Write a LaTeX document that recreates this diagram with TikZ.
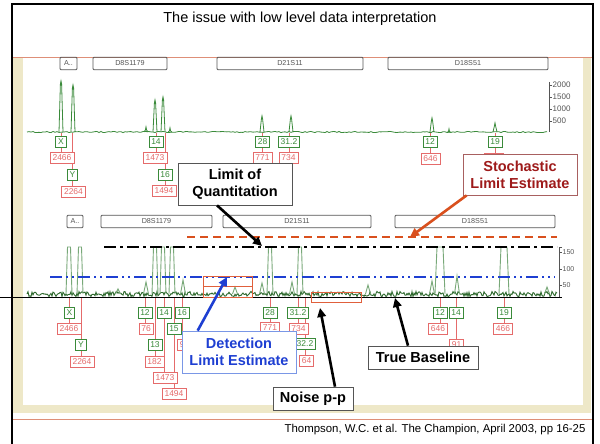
\documentclass[tikz,border=0pt]{standalone}
\usepackage{fontspec}
\setmainfont{Liberation Sans}
\usetikzlibrary{arrows.meta, positioning}

\definecolor{beige}{HTML}{EEE8C8}
\definecolor{salmon}{HTML}{DE8F78}
\definecolor{trgreen}{HTML}{3A8A3A}
\definecolor{darkgreen}{HTML}{2F6A2F}
\definecolor{lightgreen}{HTML}{78A878}
\definecolor{labred}{HTML}{E56B6B}
\definecolor{stochred}{HTML}{9E1A1A}
\definecolor{stochborder}{HTML}{A86060}
\definecolor{stocharrow}{HTML}{D9501E}
\definecolor{detblue}{HTML}{1E3FD2}
\definecolor{detborder}{HTML}{7A97E6}
\definecolor{genegray}{HTML}{555555}
\definecolor{rangered}{HTML}{E0603C}

\pgfdeclarelayer{bg}
\pgfsetlayers{bg,main}

\begin{document}
\begin{tikzpicture}[x=1pt, y=-1pt,
    glabel/.style={rectangle, draw=trgreen, text=trgreen, fill=white, font=\fontsize{8.5}{9}\selectfont, inner xsep=2.4pt, inner ysep=1pt, minimum width=10pt, minimum height=11pt, line width=0.7pt},
    rlabel/.style={glabel, draw=labred, text=labred},
    link/.style={labred, line width=0.7pt},
    genebox/.style={rectangle, draw=genegray, text=genegray, rounded corners=1pt, line width=0.8pt, font=\fontsize{7.2}{8}\selectfont, minimum height=12.5pt, inner sep=0pt},
    ticklabel/.style={anchor=west, inner sep=0.5pt, text=genegray, font=\fontsize{8}{8}\selectfont},
    traceline/.style={trgreen, line width=0.8pt},
    noiseline/.style={darkgreen, line width=0.9pt},
    peakline/.style={lightgreen, line width=0.9pt},
    stochline/.style={stocharrow, line width=1.5pt, dash pattern=on 8pt off 5pt},
    quantline/.style={black, line width=1.5pt, dash pattern=on 12pt off 4pt on 3pt off 4pt},
    detline/.style={detblue, line width=1.5pt, dash pattern=on 12pt off 4pt on 2pt off 4pt on 2pt off 4pt},
    zeroline/.style={black, line width=0.6pt},
    rangebox/.style={rangered, line width=0.8pt},
    calloutbox/.style={rectangle, draw=genegray, fill=white, align=center, font=\fontsize{14.5}{17}\selectfont\bfseries, line width=0.7pt},
    ptr/.style={-{Triangle[length=9pt, width=8.5pt]}, line width=2.6pt}
]
\useasboundingbox (0,0) rectangle (600,444);
\pgfmathsetseed{42}

\begin{pgfonlayer}{bg}
\fill[white] (0,0) rectangle (600,444);
\fill[beige] (13,57) rectangle (591,413);
\fill[white] (23,57) rectangle (583,405);
\end{pgfonlayer}

% frame
\draw[salmon, line width=0.8pt] (12,57) -- (593,57);
\draw[salmon, line width=0.8pt] (12,419) -- (593,419);
\draw[line width=2.4pt] (12,444) -- (12,4) -- (593,4) -- (593,444);

\node[font=\fontsize{14.5}{17}\selectfont] (title) at (300,19) {The issue with low level data interpretation};

% top panel
\node[genebox, minimum width=17pt] (topA) at (68.5,63.5) {A..};
\node[genebox, minimum width=74pt] (topD8) at (130,63.5) {D8S1179};
\node[genebox, minimum width=146pt] (topD21) at (290,63.5) {D21S11};
\node[genebox, minimum width=160pt] (topD18) at (468,63.5) {D18S51};

\draw[genegray, line width=0.7pt] (549,82) -- (549,132);
\foreach \py/\lab in {85/2000,97/1500,109/1000,121/500} {
  \draw[genegray, line width=0.7pt] (549,\py) -- (552,\py);
  \node[ticklabel] (ta\lab) at (552,\py) {\lab};
}

\coordinate (topbase) at (0,133);
\draw[traceline] (27,132) \foreach \i in {29,31,...,547} {-- (\i,{132+0.6*rand})};
\foreach \px/\py in {61/81,73/85,146/127,155/100,163/97,170/128,262/116,291/116,432/118,449/129,495/123}
  \draw[traceline] (\px-2,132) -- (\px-0.6,\py+3) -- (\px,\py) -- (\px+0.6,\py+3) -- (\px+2,132);

\foreach \nm/\px/\py/\lab in {tX/61/141.5/X, tY/72.5/175/Y, t14/156/141.5/14, t16/165/174.5/16, t28/262.5/142/28, t312/289/142/31.2, t12/430/141.5/12, t19/495/141.5/19}
  \node[glabel] (\nm) at (\px,\py) {\lab};
\foreach \nm/\px/\py/\lab in {tXr/62/158/2466, tYr/73.5/192/2264, t14r/155/158/1473, t16r/164/191/1494, t28r/262.5/158/771, t312r/288.5/158/734, t12r/430.5/159/646, t19r/494/159/\phantom{466}}
  \node[rlabel] (\nm) at (\px,\py) {\lab};

\begin{pgfonlayer}{bg}
\foreach \g/\r in {tX/tXr, tY/tYr, t14/t14r, t16/t16r, t28/t28r, t312/t312r, t12/t12r, t19/t19r} {
  \draw[link] (\g.north |- topbase) -- (\g.north);
  \draw[link] (\g.south) -- (\g.south |- \r.north);
}
\end{pgfonlayer}

% bottom panel
\node[genebox, minimum width=16pt] (botA) at (75,221.5) {A..};
\node[genebox, minimum width=111pt] (botD8) at (156.5,221.5) {D8S1179};
\node[genebox, minimum width=148pt] (botD21) at (297,221.5) {D21S11};
\node[genebox, minimum width=160pt] (botD18) at (475,221.5) {D18S51};

\draw[genegray, line width=0.7pt] (562,247) -- (559,247) -- (559,297) -- (562,297);
\foreach \py/\lab in {252/150,269/100,285/50} {
  \draw[genegray, line width=0.7pt] (559,\py) -- (562,\py);
  \node[ticklabel, font=\fontsize{7}{7}\selectfont] (ba\lab) at (562,\py) {\lab};
}

\coordinate (botbase) at (0,297);
\draw[noiseline] (27,294) \foreach \i in {28,...,557} {-- (\i,{294+2.6*rand})};
\foreach \px in {69,80,155,163,172,270,300}
  \draw[peakline] (\px-3,294) -- (\px-1.5,247) -- (\px+1.5,247) -- (\px+3,294);
\foreach \px in {440,504}
  \draw[peakline] (\px-5,294) -- (\px-3,247) -- (\px+3,247) -- (\px+5,294);
\foreach \px/\py in {118/289,146/282,183/280,235/287,262/283,292/282,368/285,432/281,457/276,547/287}
  \draw[peakline] (\px-2.5,294) -- (\px,\py) -- (\px+2.5,294);

\foreach \nm/\px/\py/\lab in {bX/69.5/313/X, bY/81/345/Y, b12/145/313/12, b13/155/345/13, b14/164/313/14, b15/174/329/15, b16/182/313/16, b28/270/313/28, b312/298/313/31.2, b322/305/344/32.2, b12b/440/313/12, b14b/456/313/14, b19/504/313/19}
  \node[glabel] (\nm) at (\px,\py) {\lab};
\foreach \nm/\px/\py/\lab in {bXr/69/328.5/2466, bYr/82/362/2264, b12r/146/329/76, b13r/154.5/361.5/182, b14r/165/377.5/1473, b15r/174/394/1494, b28r/270/328/771, b312r/298.5/328.5/734, b322r/306.5/361/64, b12br/438/328.5/646, b14br/456.5/345/91, b19r/503/328.5/466}
  \node[rlabel] (\nm) at (\px,\py) {\lab};
\node[rlabel, anchor=west] (b16r) at (177,345) {9\phantom{1}};

\begin{pgfonlayer}{bg}
\foreach \g/\r in {bX/bXr, bY/bYr, b12/b12r, b13/b13r, b14/b14r, b15/b15r, b16/b16r, b28/b28r, b312/b312r, b322/b322r, b12b/b12br, b14b/b14br, b19/b19r} {
  \draw[link] (\g.north |- botbase) -- (\g.north);
  \draw[link] (\g.south) -- (\g.south |- \r.north);
}
\end{pgfonlayer}

% thresholds
\draw[zeroline] (0,297) -- (562,297);
\draw[stochline] (187,237) -- (557,237);
\draw[quantline] (104,247) -- (557,247);
\draw[detline] (50,277) -- (555,277);
\draw[rangebox] (203,276) rectangle (252,297);
\draw[rangebox] (203,286) -- (252,286);
\draw[rangebox] (311,292) rectangle (361,302);

% callouts
\node[calloutbox, minimum width=114pt, minimum height=42pt] (loq) at (235,184) {Limit of\\Quantitation};
\node[calloutbox, draw=stochborder, text=stochred, minimum width=114pt, minimum height=41pt] (stoch) at (520,174.5) {Stochastic\\Limit Estimate};
\node[calloutbox, draw=detborder, text=detblue, minimum width=114pt, minimum height=42pt] (detect) at (239,352) {Detection\\Limit Estimate};
\node[calloutbox, minimum width=110pt, minimum height=23pt] (truebase) at (423,357.5) {True Baseline};
\node[calloutbox, minimum width=80pt, minimum height=23pt] (noisepp) at (313,398.5) {Noise p-p};

\coordinate (loqtip) at (262,246);
\coordinate (stochtip) at (410,237);
\coordinate (dettip) at (227,277);
\coordinate (basetip) at (395,298);
\coordinate (noisetip) at (320,308);

\draw[ptr] ([xshift=-18pt]loq.south) -- (loqtip);
\draw[ptr, stocharrow] ([xshift=4pt]stoch.south west) -- (stochtip);
\draw[ptr, detblue] ([xshift=16pt]detect.north west) -- (dettip);
\draw[ptr] ([xshift=-15pt]truebase.north) -- (basetip);
\draw[ptr] ([xshift=22pt]noisepp.north) -- (noisetip);

\node[anchor=east, font=\fontsize{11.4}{13}\selectfont] (cite) at (589,430) {Thompson, W.C. et al. The Champion, April 2003, pp 16-25};
\end{tikzpicture}
\end{document}
